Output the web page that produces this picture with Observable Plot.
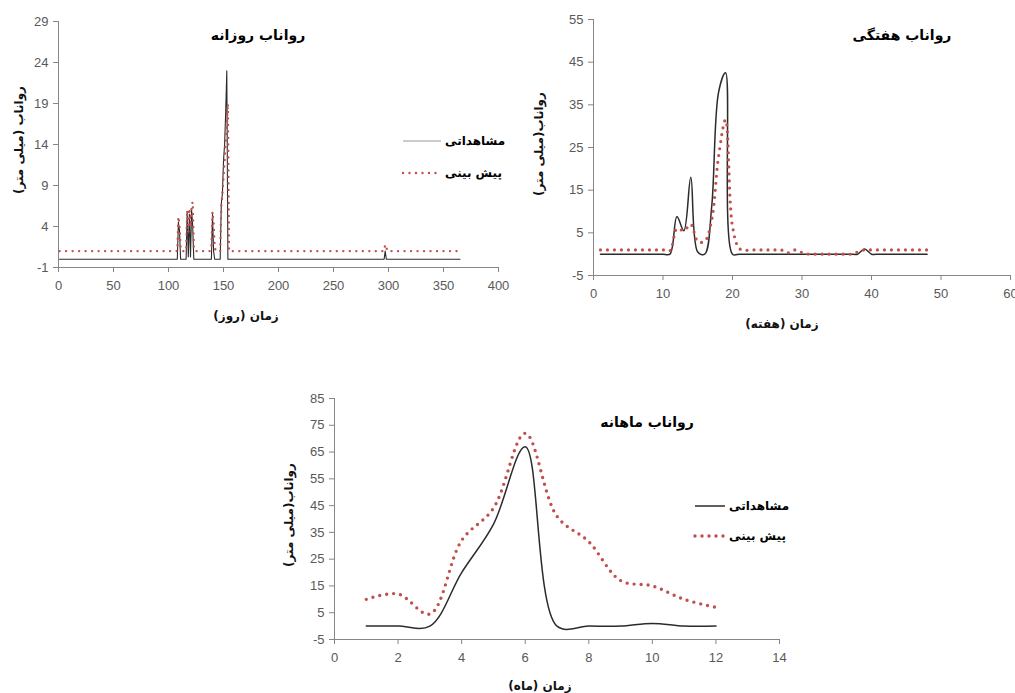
<!DOCTYPE html>
<html>
<head>
<meta charset="utf-8">
<script src="https://cdn.jsdelivr.net/npm/d3@7"></script>
<script src="https://cdn.jsdelivr.net/npm/@observablehq/plot@0.6"></script>
<style>
  html, body { margin: 0; padding: 0; background: #fff; }
  #root { position: relative; width: 1015px; height: 693px; overflow: hidden; background: #fff; }
  .chart { position: absolute; }
  .chart svg { overflow: visible; }
  .fa { position: absolute; font-family: "DejaVu Sans", sans-serif; font-weight: bold; color: #000; white-space: nowrap; direction: rtl; }
  .title { font-size: 14px; transform: translate(-50%, -50%); }
  .xtitle { font-size: 12px; transform: translate(-50%, -50%); color: #111; }
  .ytitle { font-size: 12px; transform: translate(-50%, -50%) rotate(-90deg); color: #111; }
  .leg { position: absolute; font-family: "DejaVu Sans", sans-serif; font-weight: bold; font-size: 12px; direction: rtl; white-space: nowrap; }
</style>
</head>
<body>
<div id="root"></div>
<script>
// ---------------- DATA ----------------
const seriesNames = ["مشاهداتی", "پیش بینی"];

// Daily runoff (vertices of the daily polyline)
const dailyObsDay = [1,108,109,110,111,116,117,118,119,120,121,122,123,124,139,140,141,142,147,148,149,150,151,152,153,154,155,296,297,298,365];
const dailyObsVal = [0,0,4.5,3.5,0,0,5.8,0.3,5.5,0.3,6.0,4.0,0,0,0,5.5,1.0,0,0,6.8,8.0,12.0,14.0,18.0,23.0,0,0,0,1.0,0,0];
const dailyPredDay = [1,108,109,110,111,112,116,117,118,119,120,121,122,123,124,138,139,140,141,142,143,147,148,149,150,151,152,153,154,155,296,297,298,299,365];
const dailyPredVal = [1,1,5.2,4.0,1.5,1,1,6.0,3.0,6.2,4.0,6.5,7.0,1.5,1,1,1.5,5.8,4.5,1.5,1,1,6.5,8.0,10.0,12.0,14.5,16.5,19.0,1,1,1.8,1.5,1,1];
const dailyXTicks = [0,50,100,150,200,250,300,350,400];
const dailyYTicks = [-1,4,9,14,19,24,29];

// Weekly runoff
const weeks = [1,2,3,4,5,6,7,8,9,10,11,12,13,14,15,16,17,18,19,20,21,22,23,24,25,26,27,28,29,30,31,32,33,34,35,36,37,38,39,40,41,42,43,44,45,46,47,48];
const weeklyObs = [0,0,0,0,0,0,0,0,0,0,0,8.8,5.5,18,0.5,0,11,38,42.5,0,0,0,0,0,0,0,0,0,0,0,0,0,0,0,0,0,0,0,1.2,0,0,0,0,0,0,0,0,0];
const weeklyPred = [1,1,1,1,1,1,1,1,1,1,0.8,6,5.5,7,3,3,8,23,31.5,6.5,1.3,0.9,1,1,1,1,1,0.3,1,0.4,0,0,0,0,0,0,0,0.5,1,1,1,1,1,1,1,1,1,1];
const weeklyXTicks = [0,10,20,30,40,50,60];
const weeklyYTicks = [-5,5,15,25,35,45,55];

// Monthly runoff
const months = [1,2,3,4,5,6,7,8,9,10,11,12];
const monthlyObs = [0,0,0,20,38,67,0,0,0,1,0,0];
const monthlyPred = [10,12,4.5,32,44,72,41,31.5,17,15,10,7];
const monthlyXTicks = [0,2,4,6,8,10,12,14];
const monthlyYTicks = [-5,5,15,25,35,45,55,65,75,85];

// ---------------- STYLE ----------------
const AXIS = "#868686";
const LABEL = "#595959";
const RED = "#c0504d";
const OBS = "#2b2b2b";

const root = document.getElementById("root");

function pairs(xs, ys) { return xs.map((x, i) => ({x, y: ys[i]})); }

function makeChart({left, top, width, height, margins, xTicks, yTicks, obs, pred, curve, obsWidth, obsColor, dotW, dotGap}) {
  const chart = Plot.plot({
    width, height,
    marginLeft: margins[0], marginRight: margins[1], marginTop: margins[2], marginBottom: margins[3],
    style: {fontFamily: "'Liberation Sans', Arial, sans-serif", fontSize: "13px", color: LABEL, background: "transparent", overflow: "visible"},
    x: {domain: [xTicks[0], xTicks[xTicks.length - 1]], label: null},
    y: {domain: [yTicks[0], yTicks[yTicks.length - 1]], label: null},
    marks: [
      Plot.axisX({ticks: xTicks, tickSize: 5, tickPadding: 8, stroke: AXIS, fill: LABEL, label: null, tickFormat: d => String(d)}),
      Plot.axisY({ticks: yTicks, tickSize: 5, tickPadding: 5, stroke: AXIS, fill: LABEL, label: null, tickFormat: d => String(d)}),
      Plot.ruleY([yTicks[0]], {stroke: AXIS, strokeWidth: 1}),
      Plot.ruleX([xTicks[0]], {stroke: AXIS, strokeWidth: 1}),
      Plot.line(obs, {x: "x", y: "y", stroke: obsColor, strokeWidth: obsWidth, curve}),
      Plot.line(pred, {x: "x", y: "y", stroke: RED, strokeWidth: dotW, strokeDasharray: `0,${dotGap}`, strokeLinecap: "round", curve})
    ]
  });
  const wrap = document.createElement("div");
  wrap.className = "chart";
  wrap.style.left = left + "px";
  wrap.style.top = top + "px";
  wrap.appendChild(chart);
  root.appendChild(wrap);
}

function addText(cls, text, x, y) {
  const d = document.createElement("div");
  d.className = "fa " + cls;
  d.style.left = x + "px";
  d.style.top = y + "px";
  d.textContent = text;
  root.appendChild(d);
}

function addLegend(x, y, gap, lineLen, obsColor, obsWidth, dotW, dotGap, fontSize) {
  const ns = "http://www.w3.org/2000/svg";
  [0, 1].forEach(i => {
    const svg = document.createElementNS(ns, "svg");
    svg.setAttribute("width", lineLen + 6);
    svg.setAttribute("height", 8);
    svg.style.position = "absolute";
    svg.style.left = (x - 3) + "px";
    svg.style.top = (y + i * gap - 4) + "px";
    const ln = document.createElementNS(ns, "line");
    ln.setAttribute("x1", 3); ln.setAttribute("x2", lineLen + 3);
    ln.setAttribute("y1", 4); ln.setAttribute("y2", 4);
    if (i === 0) {
      ln.setAttribute("stroke", obsColor); ln.setAttribute("stroke-width", obsWidth);
    } else {
      ln.setAttribute("stroke", RED); ln.setAttribute("stroke-width", dotW);
      ln.setAttribute("stroke-dasharray", `0,${dotGap}`); ln.setAttribute("stroke-linecap", "round");
    }
    svg.appendChild(ln);
    root.appendChild(svg);
    const t = document.createElement("div");
    t.className = "leg";
    t.style.left = (x + lineLen + 4) + "px";
    t.style.top = (y + i * gap) + "px";
    t.style.transform = "translateY(-50%)";
    t.style.fontSize = fontSize + "px";
    t.textContent = seriesNames[i];
    root.appendChild(t);
  });
}

// Daily
makeChart({left: 0, top: 0, width: 510, height: 335, margins: [58, 12, 21, 68],
  xTicks: dailyXTicks, yTicks: dailyYTicks,
  obs: pairs(dailyObsDay, dailyObsVal), pred: pairs(dailyPredDay, dailyPredVal),
  curve: "linear", obsWidth: 1.1, obsColor: OBS, dotW: 2.4, dotGap: 6.5});
addText("title", "رواناب روزانه", 258, 35);
addText("ytitle", "رواناب (میلی متر)", 19, 140);
addText("xtitle", "زمان (روز)", 246, 316);
addLegend(403, 141, 32, 38, "#999", 1, 2.4, 6.5, 12);

// Weekly
makeChart({left: 510, top: 0, width: 505, height: 340, margins: [83, 5, 19, 65],
  xTicks: weeklyXTicks, yTicks: weeklyYTicks,
  obs: pairs(weeks, weeklyObs), pred: pairs(weeks, weeklyPred),
  curve: "catmull-rom", obsWidth: 1.5, obsColor: OBS, dotW: 3.2, dotGap: 7});
addText("title", "رواناب هفتگی", 902, 35);
addText("ytitle", "رواناب(میلی متر)", 539, 144);
addText("xtitle", "زمان (هفته)", 782, 324);

// Monthly
makeChart({left: 280, top: 380, width: 520, height: 313, margins: [54, 21, 18, 54],
  xTicks: monthlyXTicks, yTicks: monthlyYTicks,
  obs: pairs(months, monthlyObs), pred: pairs(months, monthlyPred),
  curve: "catmull-rom", obsWidth: 1.5, obsColor: OBS, dotW: 3.4, dotGap: 7});
addText("title", "رواناب ماهانه", 647, 422);
addText("ytitle", "رواناب(میلی متر)", 289, 515);
addText("xtitle", "زمان (ماه)", 540, 686);
addLegend(695, 506, 30, 30, OBS, 1.5, 3.4, 7, 12);
</script>
</body>
</html>
